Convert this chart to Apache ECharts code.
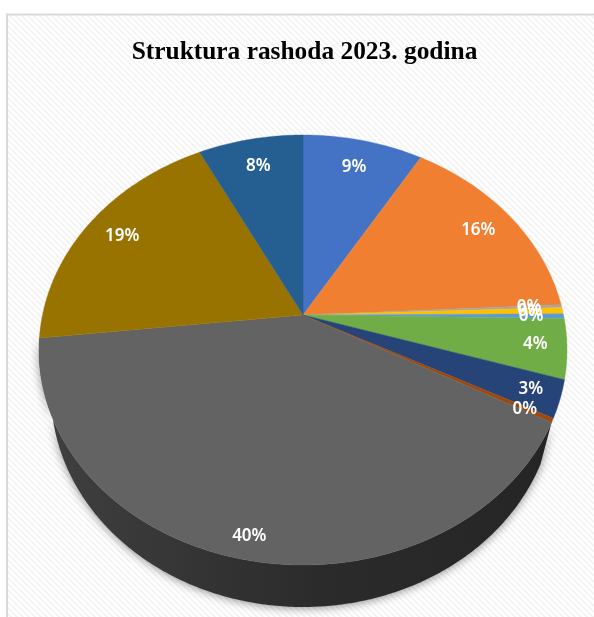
<!DOCTYPE html>
<html><head><meta charset="utf-8">
<style>html,body{margin:0;padding:0;background:#fff}#c{width:594px;height:617px}</style>
<script src="https://cdn.jsdelivr.net/npm/echarts@6/dist/echarts.min.js"></script>
</head><body><div id="c"></div>
<script>
const titleText = 'Struktura rashoda 2023. godina';
const categories = ['A','B','C','D','E','F','G','H','I','J','K'];
const values = [8.6,15.6,0.2,0.49,0.35,4.49,2.8,0.3,40.4,19.2,7.5];
const colors = ['#4472C4','#F07F32','#A5A5A5','#FFC000','#5B9BD5','#70AD47','#264478','#9E480E','#636363','#997300','#255E91'];
const wallCategories = ['I'];

// Tilted-disc projection of the pie
const CX=303, CY=315, K=0.1628, A=209.3, B=260.5, DEPTH=42, WALL_SCALE=0.955;
const total = values.reduce((a,b)=>a+b,0);
const spans = []; let acc=0;
values.forEach(v=>{spans.push([acc/total*2*Math.PI,(acc+v)/total*2*Math.PI]);acc+=v;});
function edge(t){const u=Math.sin(t),v=-Math.cos(t),d=1-K*v;return [CX+B*u/d,CY+A*v/d];}
function arc(t0,t1){const n=Math.max(2,Math.ceil((t1-t0)/0.01)),p=[];
  for(let i=0;i<=n;i++)p.push(edge(t0+(t1-t0)*i/n));return p;}

const chart = echarts.init(document.getElementById('c'),null,{renderer:'canvas'});
const pc=document.createElement('canvas');pc.width=6;pc.height=6;
const g=pc.getContext('2d');g.fillStyle='#fff';g.fillRect(0,0,6,6);
g.strokeStyle='#f2f2f2';g.lineWidth=1.6;
[-6,0,6].forEach(o=>{g.beginPath();g.moveTo(o,0);g.lineTo(o+6,6);g.stroke();});

chart.setOption({
  animation:false,
  backgroundColor:'#fff',
  title:{text:titleText,left:299.5,top:35,textAlign:'center',
    textStyle:{fontFamily:'Liberation Serif',fontWeight:'bold',fontSize:25.4,color:'#000'}},
  graphic:[{type:'rect',z:-10,shape:{x:7,y:14.5,width:600,height:620},
    style:{fill:{image:pc,repeat:'repeat'},stroke:'#d9d9d9',lineWidth:2}}],
  series:[
   {type:'custom',coordinateSystem:'none',z:1,silent:true,
    data:categories.map((c,i)=>({name:c,value:values[i]})),
    renderItem(params){
      const i=params.dataIndex;
      if(!wallCategories.includes(categories[i]))return {type:'group',children:[]};
      const top=arc(spans[i][0],spans[i][1]);
      const bot=top.slice().reverse().map(p=>[CX+(p[0]-CX)*WALL_SCALE,p[1]+DEPTH]);
      return {type:'polygon',shape:{points:top.concat(bot)},style:{
        fill:new echarts.graphic.LinearGradient(0,0,1,0,[{offset:0,color:'#404040'},{offset:0.55,color:'#2b2b2b'},{offset:1,color:'#252525'}]),
        shadowBlur:10,shadowColor:'rgba(0,0,0,0.45)',shadowOffsetY:1}};
    }},
   {type:'custom',coordinateSystem:'none',z:2,silent:true,
    data:categories.map((c,i)=>({name:c,value:values[i]})),
    renderItem(params){
      const i=params.dataIndex;
      const pts=[[CX,CY]].concat(arc(spans[i][0],spans[i][1]));
      return {type:'polygon',shape:{points:pts},style:{fill:colors[i],stroke:colors[i],lineWidth:0.4}};
    }},
   {type:'custom',coordinateSystem:'none',z:3,silent:true,
    data:categories.map((c,i)=>({name:c,value:values[i]})),
    renderItem(params){
      const i=params.dataIndex;
      const t=(spans[i][0]+spans[i][1])/2;
      const e=edge(t),v=-Math.cos(t);
      const f=v<-0.15?0.85:0.875+0.03*Math.max(v,0);
      return {type:'text',x:CX+(e[0]-CX)*f,y:CY+(e[1]-CY)*f,style:{
        text:Math.round(values[i]/total*100)+'%',fill:'#fff',align:'center',verticalAlign:'middle',
        fontFamily:'Noto Sans',fontWeight:600,fontSize:17}};
    }}
  ]
});
</script></body></html>
